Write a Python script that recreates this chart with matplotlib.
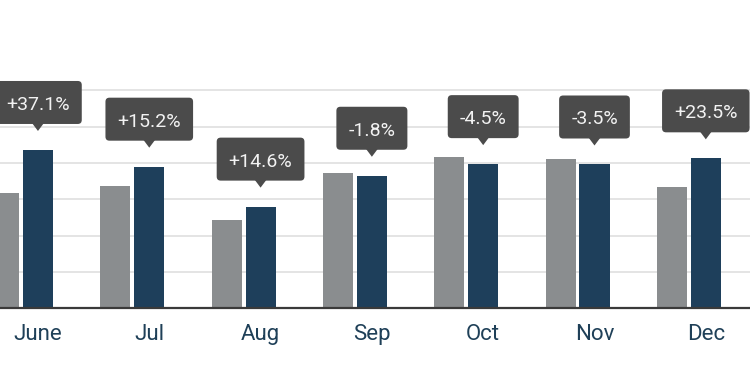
import matplotlib.pyplot as plt
import matplotlib.transforms as mtransforms
from matplotlib.patches import FancyBboxPatch, Polygon
import numpy as np

# Monthly values (previous period vs current period)
months = ['June', 'Jul', 'Aug', 'Sep', 'Oct', 'Nov', 'Dec']
previous = [31.7, 33.7, 24.3, 37.2, 41.6, 41.0, 33.5]
current = [43.6, 39.0, 28.0, 36.5, 39.7, 39.6, 41.3]
changes = ['+37.1%', '+15.2%', '+14.6%', '-1.8%', '-4.5%', '-3.5%', '+23.5%']

GREY = '#8a8d8f'
BLUE = '#1e3f5b'
CALLOUT = '#4b4b4b'
LABEL = '#1f4058'

plt.rcParams['font.family'] = ['Roboto', 'DejaVu Sans']

fig = plt.figure(figsize=(7.5, 3.75), dpi=100)
ax = fig.add_axes([0, 66.7 / 375, 1, 308.3 / 375])

x = np.arange(len(months))
bar_w = 0.27
ax.bar(x - 0.305, previous, width=bar_w, color=GREY, zorder=2)
ax.bar(x, current, width=bar_w, color=BLUE, zorder=2)

ax.set_xlim(-0.341, 6.397)
ax.set_ylim(0, 84.9)
ax.set_yticks([10, 20, 30, 40, 50, 60])
ax.yaxis.grid(True, color='#e2e2e2', linewidth=1.3, zorder=0)
ax.set_axisbelow(True)
ax.tick_params(axis='y', left=False, labelleft=False)

ax.set_xticks(x)
ax.set_xticklabels(months, fontsize=16, color=LABEL)
ax.tick_params(axis='x', length=0, pad=11)

for side in ['top', 'right', 'left']:
    ax.spines[side].set_visible(False)
ax.spines['bottom'].set_color('#3a3a3a')
ax.spines['bottom'].set_linewidth(1.6)

# Callouts (box + pointer) above each current-period bar, laid out in pixels
renderer = fig.canvas.get_renderer()
pix = mtransforms.IdentityTransform()
for xi, h, txt in zip(x, current, changes):
    cx, top = ax.transData.transform((xi, h))
    bottom = top + 26          # box bottom edge
    box_h = 43
    t = fig.text(cx, bottom + box_h / 2 - 7.5, txt, transform=pix,
                 ha='center', va='baseline', fontsize=14, color='#f2f2f2', zorder=6)
    w = t.get_window_extent(renderer).width + 24
    fig.patches.append(FancyBboxPatch((cx - w / 2, bottom), w, box_h,
                                      boxstyle='round,pad=0,rounding_size=4',
                                      fc=CALLOUT, ec='none', transform=pix, zorder=5))
    fig.patches.append(Polygon([(cx - 6, bottom + 1), (cx + 6, bottom + 1), (cx, top + 19)],
                               closed=True, fc=CALLOUT, ec='none', transform=pix, zorder=5))

plt.savefig('out.png', dpi=100)
plt.close()
